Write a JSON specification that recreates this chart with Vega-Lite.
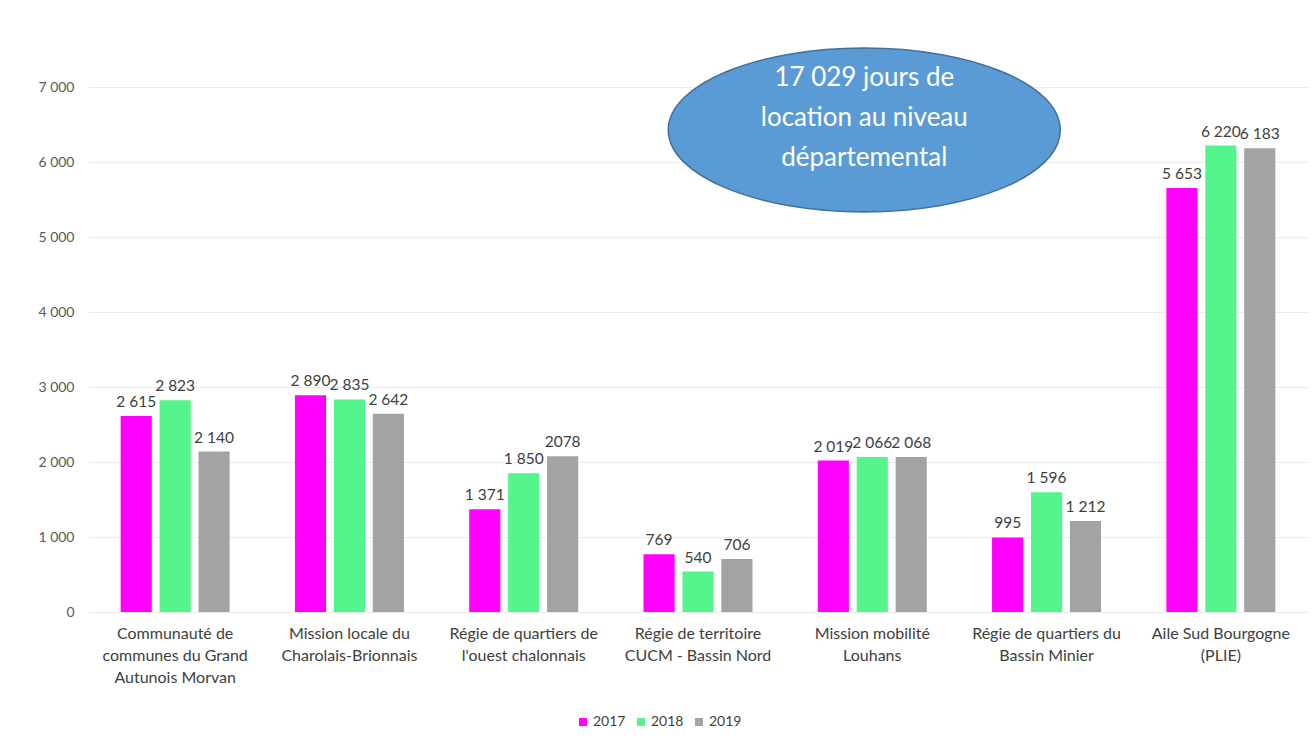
{
  "$schema": "https://vega.github.io/schema/vega-lite/v6.json",
  "width": 1220,
  "height": 525,
  "autosize": "none",
  "padding": {"left": 88, "top": 87, "right": 6, "bottom": 135},
  "background": "white",
  "config": {
    "view": {"stroke": null},
    "font": "Lato",
    "locale": {"number": {"decimal": ",", "thousands": " ", "grouping": [3], "currency": ["", " €"]}}
  },
  "encoding": {
    "x": {
      "field": "cat",
      "type": "nominal",
      "scale": {
        "domain": [
          "Communauté de communes du Grand Autunois Morvan",
          "Mission locale du Charolais-Brionnais",
          "Régie de quartiers de l'ouest chalonnais",
          "Régie de territoire CUCM - Bassin Nord",
          "Mission mobilité Louhans",
          "Régie de quartiers du Bassin Minier",
          "Aile Sud Bourgogne (PLIE)"
        ],
        "paddingInner": 0.33,
        "paddingOuter": 0.165
      },
      "axis": {
        "title": null,
        "labelAngle": 0,
        "domain": false,
        "ticks": false,
        "labelFont": "Lato",
        "labelFontSize": 16,
        "labelLineHeight": 22,
        "labelPadding": 13,
        "labelColor": "#404040",
        "labelBaseline": "top",
        "labelLimit": 200,
        "labelExpr": "{'Communauté de communes du Grand Autunois Morvan': ['Communauté de', 'communes du Grand', 'Autunois Morvan'], 'Mission locale du Charolais-Brionnais': ['Mission locale du', 'Charolais-Brionnais'], \"Régie de quartiers de l'ouest chalonnais\": ['Régie de quartiers de', \"l'ouest chalonnais\"], 'Régie de territoire CUCM - Bassin Nord': ['Régie de territoire', 'CUCM - Bassin Nord'], 'Mission mobilité Louhans': ['Mission mobilité', 'Louhans'], 'Régie de quartiers du Bassin Minier': ['Régie de quartiers du', 'Bassin Minier'], 'Aile Sud Bourgogne (PLIE)': ['Aile Sud Bourgogne', '(PLIE)']}[datum.value]"
      }
    },
    "y": {
      "field": "v",
      "type": "quantitative",
      "scale": {"domain": [0, 7000]},
      "axis": {
        "title": null,
        "values": [0, 1000, 2000, 3000, 4000, 5000, 6000, 7000],
        "format": ",d",
        "domain": false,
        "ticks": false,
        "labelFont": "Lato",
        "labelFontSize": 14,
        "labelColor": "#595959",
        "labelPadding": 14,
        "gridColor": "#ebebeb",
        "gridWidth": 1
      }
    }
  },
  "layer": [
    {
      "data": {
        "values": [
          {"cat": "Communauté de communes du Grand Autunois Morvan", "year": "2017", "v": 2615, "label": "2 615"},
          {"cat": "Communauté de communes du Grand Autunois Morvan", "year": "2018", "v": 2823, "label": "2 823"},
          {"cat": "Communauté de communes du Grand Autunois Morvan", "year": "2019", "v": 2140, "label": "2 140"},
          {"cat": "Mission locale du Charolais-Brionnais", "year": "2017", "v": 2890, "label": "2 890"},
          {"cat": "Mission locale du Charolais-Brionnais", "year": "2018", "v": 2835, "label": "2 835"},
          {"cat": "Mission locale du Charolais-Brionnais", "year": "2019", "v": 2642, "label": "2 642"},
          {"cat": "Régie de quartiers de l'ouest chalonnais", "year": "2017", "v": 1371, "label": "1 371"},
          {"cat": "Régie de quartiers de l'ouest chalonnais", "year": "2018", "v": 1850, "label": "1 850"},
          {"cat": "Régie de quartiers de l'ouest chalonnais", "year": "2019", "v": 2078, "label": "2078"},
          {"cat": "Régie de territoire CUCM - Bassin Nord", "year": "2017", "v": 769, "label": "769"},
          {"cat": "Régie de territoire CUCM - Bassin Nord", "year": "2018", "v": 540, "label": "540"},
          {"cat": "Régie de territoire CUCM - Bassin Nord", "year": "2019", "v": 706, "label": "706"},
          {"cat": "Mission mobilité Louhans", "year": "2017", "v": 2019, "label": "2 019"},
          {"cat": "Mission mobilité Louhans", "year": "2018", "v": 2066, "label": "2 066"},
          {"cat": "Mission mobilité Louhans", "year": "2019", "v": 2068, "label": "2 068"},
          {"cat": "Régie de quartiers du Bassin Minier", "year": "2017", "v": 995, "label": "995"},
          {"cat": "Régie de quartiers du Bassin Minier", "year": "2018", "v": 1596, "label": "1 596"},
          {"cat": "Régie de quartiers du Bassin Minier", "year": "2019", "v": 1212, "label": "1 212"},
          {"cat": "Aile Sud Bourgogne (PLIE)", "year": "2017", "v": 5653, "label": "5 653"},
          {"cat": "Aile Sud Bourgogne (PLIE)", "year": "2018", "v": 6220, "label": "6 220"},
          {"cat": "Aile Sud Bourgogne (PLIE)", "year": "2019", "v": 6183, "label": "6 183"}
        ]
      },
      "encoding": {
        "xOffset": {
          "field": "year",
          "type": "nominal",
          "scale": {"paddingInner": 0.2, "paddingOuter": 0.1}
        }
      },
      "layer": [
        {
          "mark": {"type": "bar"},
          "encoding": {
            "color": {
              "field": "year",
              "type": "nominal",
              "scale": {"domain": ["2017", "2018", "2019"], "range": ["#FF00FF", "#55F58E", "#A3A3A3"]},
              "legend": {
                "title": null,
                "orient": "none",
                "direction": "horizontal",
                "legendX": 488,
                "legendY": 628,
                "symbolType": "square",
                "symbolSize": 64,
                "symbolStrokeWidth": 0,
                "labelFont": "Lato",
                "labelFontSize": 14,
                "labelColor": "#404040",
                "columnPadding": 8,
                "labelOffset": 3
              }
            }
          }
        },
        {
          "mark": {"type": "text", "baseline": "bottom", "dy": -6, "fontSize": 15.5, "font": "Lato", "color": "#404040"},
          "encoding": {"text": {"field": "label"}}
        }
      ]
    },
    {
      "data": {
        "values": [
          {"cat": "Mission mobilité Louhans", "v": 6427, "note": "17 029 jours de\nlocation au niveau\ndépartemental"}
        ]
      },
      "layer": [
        {
          "mark": {
            "type": "point",
            "shape": "M -1.041 0 C -1.041 -0.231 -0.593 -0.418 -0.041 -0.418 C 0.511 -0.418 0.959 -0.231 0.959 0 C 0.959 0.231 0.511 0.418 -0.041 0.418 C -0.593 0.418 -1.041 0.231 -1.041 0 Z",
            "size": 153664,
            "filled": true,
            "fill": "#5B9BD5",
            "stroke": "#41719C",
            "strokeWidth": 1.5,
            "opacity": 1
          },
          "encoding": {}
        },
        {
          "mark": {
            "type": "text",
            "font": "Lato",
            "fontSize": 26,
            "color": "white",
            "lineBreak": "\n",
            "lineHeight": 40,
            "align": "center",
            "baseline": "middle",
            "dx": -8,
            "dy": -52
          },
          "encoding": {"text": {"field": "note"}}
        }
      ]
    }
  ]
}
